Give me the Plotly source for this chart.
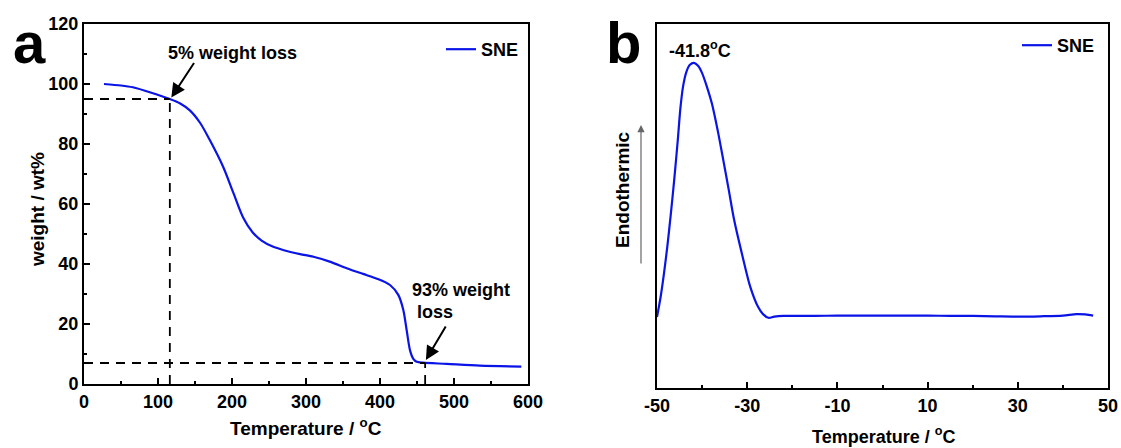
import plotly.graph_objects as go

# Panel a: TGA
tga_temp = [27, 50, 66, 91, 116, 130, 143, 157, 170, 188, 202, 215, 228, 240, 255, 270, 292, 310, 332, 355, 377, 396, 413.5, 424.7, 431.5, 436, 440.5, 445, 449.6, 458, 490, 535, 591]
tga_weight = [100, 99.5, 98.9, 97.1, 95, 93.5, 91.2, 87, 81.3, 72.4, 63.6, 55.5, 50.5, 47.8, 45.8, 44.6, 43.3, 42.4, 40.8, 38.6, 36.7, 35.1, 33, 29.7, 24.7, 18, 11.3, 8.4, 7.4, 7.1, 6.7, 6.1, 5.8]

# Panel b: DSC
dsc_temp = [-50, -49.2, -48.5, -47.7, -47, -46.2, -45.4, -44.8, -44.2, -43.5, -42.7, -41.8, -40.9, -40, -39, -37.8, -36.5, -35.3, -34.1, -32.9, -31, -29.3, -27.6, -26.5, -25.3, -24, -22, -20, -15, -10, -5, 0, 5, 10, 15, 20, 25, 30, 35, 40, 43, 45, 46.7]
dsc_heat = [19.5, 25, 31, 39, 47, 57, 68, 77, 83, 86.8, 88.8, 89.3, 88.5, 86.5, 83, 78, 70.5, 62.6, 54.5, 46.2, 36, 27.7, 22.3, 20.3, 19.3, 19.6, 19.8, 19.8, 19.8, 19.9, 19.9, 19.9, 19.9, 19.9, 19.8, 19.8, 19.7, 19.6, 19.7, 19.9, 20.3, 20.2, 19.9]

xa_ticks = [0, 100, 200, 300, 400, 500, 600]
ya_ticks = [0, 20, 40, 60, 80, 100, 120]
xb_ticks = [-50, -30, -10, 10, 30, 50]
xb_labels = ["-50", "-30", "-10", "10", "30", "50"]

W, H = 1121, 448
BLUE = "#0a14e6"
FONT = "Liberation Sans, Arial, sans-serif"

def px(x):
    return x / W

def py(y):
    return (H - y) / H

fig = go.Figure()
fig.add_trace(go.Scatter(x=tga_temp, y=tga_weight, mode="lines", name="SNE",
                         line=dict(color=BLUE, width=2.2, shape="spline", smoothing=0.8),
                         xaxis="x", yaxis="y", legend="legend"))
fig.add_trace(go.Scatter(x=dsc_temp, y=dsc_heat, mode="lines", name="SNE",
                         line=dict(color=BLUE, width=2.2, shape="spline", smoothing=0.8),
                         xaxis="x2", yaxis="y2", legend="legend2"))

tickfont = dict(family=FONT, size=18, color="black", weight="bold")
axis_common = dict(showline=True, linewidth=2, linecolor="black", mirror=True,
                   showgrid=False, zeroline=False, ticks="inside", ticklen=6,
                   tickwidth=2, tickcolor="black", tickfont=tickfont, automargin=False)
minor_common = dict(ticks="inside", ticklen=3, tickwidth=2, tickcolor="black")

fig.update_layout(
    width=W, height=H, margin=dict(l=0, r=0, t=0, b=0, autoexpand=False),
    paper_bgcolor="white", plot_bgcolor="white",
    font=dict(family=FONT, color="black"),
    xaxis=dict(domain=[px(84), px(528)], range=[0, 600], tickvals=xa_ticks,
               minor=dict(dtick=50, **minor_common), anchor="y", **axis_common),
    yaxis=dict(domain=[py(384), py(24)], range=[0, 120], tickvals=ya_ticks,
               minor=dict(dtick=10, **minor_common), anchor="x", **axis_common),
    xaxis2=dict(domain=[px(657), px(1108)], range=[-50, 50], tickvals=xb_ticks, ticktext=xb_labels,
                minor=dict(dtick=10, **minor_common), anchor="y2", **axis_common),
    yaxis2=dict(domain=[py(388), py(24)], range=[0, 100], showline=True, linewidth=2,
                linecolor="black", mirror=True, showgrid=False, zeroline=False,
                showticklabels=False, ticks="", anchor="x2", automargin=False),
    legend=dict(x=px(524), y=py(31), xanchor="right", yanchor="top",
                bgcolor="rgba(0,0,0,0)", font=dict(family=FONT, size=18, weight="bold")),
    legend2=dict(x=px(1100), y=py(27), xanchor="right", yanchor="top",
                 bgcolor="rgba(0,0,0,0)", font=dict(family=FONT, size=18, weight="bold")),
    showlegend=True,
)

dash = dict(color="black", width=1.8, dash="9px,7px")
fig.add_shape(type="line", xref="x", yref="y", x0=0, x1=116, y0=95, y1=95, line=dash)
fig.add_shape(type="line", xref="x", yref="y", x0=116, x1=116, y0=0, y1=95, line=dash)
fig.add_shape(type="line", xref="x", yref="y", x0=0, x1=461, y0=7, y1=7, line=dash)
fig.add_shape(type="line", xref="x", yref="y", x0=461, x1=461, y0=0, y1=7, line=dash)

afont = dict(family=FONT, size=18, color="black", weight="bold")
fig.add_annotation(x=118, y=95.5, ax=150, ay=107.5, xref="x", yref="y", axref="x", ayref="y",
                   showarrow=True, arrowhead=2, arrowsize=1.4, arrowwidth=2, arrowcolor="black", text="")
fig.add_annotation(x=200, y=110.5, xref="x", yref="y", text="5% weight loss", showarrow=False,
                   font=afont, xanchor="center", yanchor="middle")
fig.add_annotation(x=462, y=8, ax=490, ay=19.7, xref="x", yref="y", axref="x", ayref="y",
                   showarrow=True, arrowhead=2, arrowsize=1.4, arrowwidth=2, arrowcolor="black", text="")
fig.add_annotation(x=510, y=31.3, xref="x", yref="y", text="93% weight", showarrow=False,
                   font=afont, xanchor="center", yanchor="middle")
fig.add_annotation(x=474, y=24, xref="x", yref="y", text="loss", showarrow=False,
                   font=afont, xanchor="center", yanchor="middle")

fig.add_annotation(x=-40.4, y=93, xref="x2", yref="y2", text="-41.8<sup>o</sup>C", showarrow=False,
                   font=afont, xanchor="center", yanchor="middle")

# axis titles
tfont = dict(family=FONT, size=19, color="black", weight="bold")
fig.add_annotation(x=px(306), y=py(427), xref="paper", yref="paper", text="Temperature / <sup>o</sup>C",
                   showarrow=False, font=tfont, xanchor="center", yanchor="middle")
fig.add_annotation(x=px(37), y=py(210), xref="paper", yref="paper", text="weight / wt%",
                   textangle=-90, showarrow=False, font=tfont, xanchor="center", yanchor="middle")
fig.add_annotation(x=px(883), y=py(435), xref="paper", yref="paper", text="Temperature / <sup>o</sup>C",
                   showarrow=False, font=dict(family=FONT, size=18, color="black", weight="bold"),
                   xanchor="center", yanchor="middle")
fig.add_annotation(x=px(622), y=py(190), xref="paper", yref="paper", text="Endothermic",
                   textangle=-90, showarrow=False, font=tfont, xanchor="center", yanchor="middle")
fig.add_annotation(x=px(641), y=py(125), ax=0, ay=140, xref="paper", yref="paper",
                   showarrow=True, arrowhead=2, arrowsize=1.2, arrowwidth=1.2, arrowcolor="#666666", text="")

# panel letters
lfont = dict(family=FONT, size=58, color="black", weight="bold")
fig.add_annotation(x=px(29), y=py(42), xref="paper", yref="paper", text="a", showarrow=False,
                   font=lfont, xanchor="center", yanchor="middle")
fig.add_annotation(x=px(623), y=py(42), xref="paper", yref="paper", text="b", showarrow=False,
                   font=lfont, xanchor="center", yanchor="middle")

fig.write_html("out.html")
